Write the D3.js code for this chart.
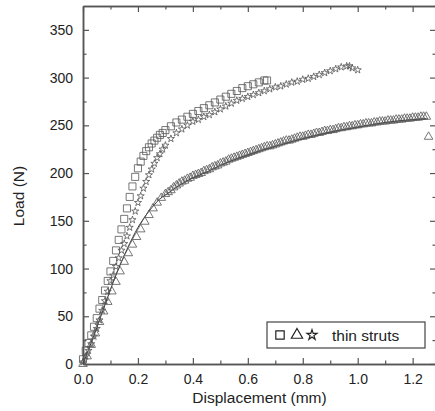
<!DOCTYPE html>
<html>
<head>
<meta charset="utf-8">
<script src="https://cdn.jsdelivr.net/npm/d3@7"></script>
<style>
  body { margin: 0; background: #fff; }
  svg { display: block; font-family: "Liberation Sans", Arial, sans-serif; }
  .tick text { font-size: 14px; fill: #222; }
  .axis-label { font-size: 15.5px; fill: #222; }
</style>
</head>
<body>
<svg id="chart"></svg>
<script>
// [displacement (mm), load (N)]
const squarePoints = [
  [0.00, 5], [0.01, 14], [0.02, 22], [0.03, 30], [0.04, 39], [0.05, 48], [0.06, 58], [0.07, 67],
  [0.08, 77], [0.09, 87], [0.10, 97], [0.11, 108], [0.12, 119], [0.13, 130], [0.14, 141], [0.15, 152],
  [0.16, 163], [0.17, 175], [0.18, 186], [0.19, 196], [0.20, 205], [0.21, 212], [0.22, 218], [0.23, 223],
  [0.24, 227], [0.25, 231], [0.26, 234], [0.27, 237], [0.28, 240], [0.29, 242], [0.30, 245], [0.32, 249],
  [0.34, 253], [0.36, 256], [0.38, 259], [0.40, 262], [0.42, 265], [0.44, 268], [0.46, 271], [0.48, 274],
  [0.50, 277], [0.52, 280], [0.54, 283], [0.56, 286], [0.58, 289], [0.60, 291], [0.62, 293], [0.64, 295],
  [0.66, 297], [0.67, 297]
];

const starPoints = [
  [0.00, 2], [0.01, 8], [0.02, 14], [0.03, 21], [0.04, 29], [0.05, 37], [0.06, 46], [0.07, 56],
  [0.08, 66], [0.09, 76], [0.10, 87], [0.11, 93], [0.12, 102], [0.13, 111], [0.14, 119], [0.15, 126],
  [0.16, 134], [0.17, 143], [0.18, 151], [0.19, 160], [0.20, 169], [0.21, 176], [0.22, 184], [0.23, 191],
  [0.24, 198], [0.25, 204], [0.26, 210], [0.27, 216], [0.28, 220], [0.29, 225], [0.30, 229], [0.32, 236],
  [0.34, 242], [0.36, 246], [0.38, 250], [0.40, 254], [0.42, 256], [0.44, 259], [0.46, 261], [0.48, 264],
  [0.50, 267], [0.52, 270], [0.54, 273], [0.56, 276], [0.58, 278], [0.60, 280], [0.62, 282], [0.64, 284],
  [0.66, 286], [0.68, 288], [0.70, 290], [0.72, 291], [0.74, 293], [0.76, 295], [0.78, 296], [0.80, 298],
  [0.82, 299], [0.84, 301], [0.86, 303], [0.88, 305], [0.90, 307], [0.92, 309], [0.94, 311], [0.96, 312],
  [0.97, 312], [0.98, 310], [1.00, 308]
];

const trianglePoints = [
  [0.000, 0], [0.015, 8], [0.030, 20], [0.045, 32], [0.060, 44], [0.075, 55], [0.090, 65], [0.105, 76],
  [0.120, 86], [0.135, 97], [0.150, 107], [0.165, 116], [0.180, 125], [0.195, 133], [0.210, 141], [0.225, 149],
  [0.240, 156], [0.255, 163], [0.270, 169], [0.285, 174],
  [0.30, 178], [0.31, 180], [0.32, 182], [0.33, 185], [0.34, 187], [0.35, 189], [0.36, 191], [0.37, 192],
  [0.38, 194], [0.39, 195], [0.40, 197], [0.41, 198], [0.42, 199], [0.43, 200], [0.44, 202], [0.45, 203],
  [0.46, 204], [0.47, 206], [0.48, 207], [0.49, 208], [0.50, 210], [0.51, 211], [0.52, 212], [0.53, 214],
  [0.54, 215], [0.55, 216], [0.56, 217], [0.57, 218], [0.58, 219], [0.59, 220], [0.60, 221], [0.61, 222],
  [0.62, 223], [0.63, 224], [0.64, 225], [0.65, 226], [0.66, 227], [0.67, 228], [0.68, 228], [0.69, 229],
  [0.70, 230], [0.71, 231], [0.72, 232], [0.73, 233], [0.74, 234], [0.75, 234], [0.76, 235], [0.77, 236],
  [0.78, 237], [0.79, 238], [0.80, 238], [0.81, 239], [0.82, 240], [0.83, 240], [0.84, 241], [0.85, 242],
  [0.86, 242], [0.87, 243], [0.88, 244], [0.89, 244], [0.90, 245], [0.91, 245], [0.92, 246], [0.93, 247],
  [0.94, 247], [0.95, 248], [0.96, 248], [0.97, 249], [0.98, 249], [0.99, 250], [1.00, 250], [1.01, 251],
  [1.02, 251], [1.03, 252], [1.04, 252], [1.05, 252], [1.06, 253], [1.07, 253], [1.08, 254], [1.09, 254],
  [1.10, 254], [1.11, 255], [1.12, 255], [1.13, 255], [1.14, 256], [1.15, 256], [1.16, 256], [1.17, 257],
  [1.18, 257], [1.19, 257], [1.20, 258], [1.21, 258], [1.22, 258], [1.23, 259], [1.24, 259], [1.25, 259],
  [1.258, 238]
];

// thin solid curve drawn with the triangle series
const triangleCurve = [
  [0.00, 0], [0.02, 15], [0.04, 30], [0.06, 46], [0.08, 62], [0.10, 78], [0.12, 93], [0.14, 107],
  [0.16, 120], [0.18, 132], [0.20, 143], [0.22, 152], [0.24, 160], [0.26, 167], [0.28, 173], [0.30, 177],
  [0.35, 187], [0.40, 195], [0.45, 201], [0.50, 208], [0.60, 219], [0.70, 228], [0.80, 236], [0.90, 243],
  [1.00, 248], [1.10, 253], [1.20, 256], [1.25, 257]
];

const xTicks = [0.0, 0.2, 0.4, 0.6, 0.8, 1.0, 1.2];
const xMinorTicks = [0.1, 0.3, 0.5, 0.7, 0.9, 1.1];
const yTicks = [0, 50, 100, 150, 200, 250, 300, 350];
const yMinorTicks = [25, 75, 125, 175, 225, 275, 325];
const legendLabel = 'thin struts';

const width = 435, height = 411;
const margin = { top: 6, right: -1, bottom: 47, left: 83 };
const innerW = width - margin.left - margin.right;
const innerH = height - margin.top - margin.bottom;
const axisColor = '#555';
const markColor = '#555';

const svg = d3.select('#chart')
  .attr('width', width)
  .attr('height', height);

const chart = svg.append('g')
  .attr('transform', `translate(${margin.left},${margin.top})`);

const xScale = d3.scaleLinear().domain([0, 1.285]).range([0, innerW]);
const yScale = d3.scaleLinear().domain([0, 375]).range([innerH, 0]);

// major + minor ticks on all four sides, pointing inward
function addAxis(axisFn, scale, ticks, minor, transform, fmt) {
  const g = chart.append('g').attr('transform', transform);
  g.call(axisFn(scale).tickValues(ticks).tickSize(-6).tickSizeOuter(0).tickPadding(10).tickFormat(fmt));
  g.append('g').call(axisFn(scale).tickValues(minor).tickSize(-3.5).tickSizeOuter(0).tickFormat(''));
  g.selectAll('.domain').attr('stroke', axisColor).attr('stroke-width', 1.5);
  g.selectAll('.tick line').attr('stroke', axisColor).attr('stroke-width', 1.2);
  return g;
}

const xFmt = d3.format('.1f');
const yFmt = d3.format('d');
addAxis(d3.axisBottom, xScale, xTicks, xMinorTicks, `translate(0,${innerH})`, xFmt);
addAxis(d3.axisTop, xScale, xTicks, xMinorTicks, 'translate(0,0)', '');
addAxis(d3.axisLeft, yScale, yTicks, yMinorTicks, 'translate(0,0)', yFmt);
addAxis(d3.axisRight, yScale, yTicks, yMinorTicks, `translate(${innerW},0)`, '');

// fitted curve
const line = d3.line()
  .x(d => xScale(d[0]))
  .y(d => yScale(d[1]))
  .curve(d3.curveMonotoneX);

chart.append('path')
  .datum(triangleCurve)
  .attr('d', line)
  .attr('fill', 'none')
  .attr('stroke', '#333')
  .attr('stroke-width', 1);

function drawSeries(points, symbolType, size) {
  const sym = d3.symbol().type(symbolType).size(size);
  chart.append('g')
    .selectAll('path')
    .data(points)
    .join('path')
    .attr('transform', d => `translate(${xScale(d[0])},${yScale(d[1])})`)
    .attr('d', sym)
    .attr('fill', 'none')
    .attr('stroke', markColor)
    .attr('stroke-width', 0.8);
}

drawSeries(trianglePoints, d3.symbolTriangle, 32);
drawSeries(starPoints, d3.symbolStar, 16);
drawSeries(squarePoints, d3.symbolSquare, 50);

// axis titles
svg.append('text')
  .attr('class', 'axis-label')
  .attr('x', margin.left + innerW / 2)
  .attr('y', 403)
  .attr('text-anchor', 'middle')
  .text('Displacement (mm)');

svg.append('text')
  .attr('class', 'axis-label')
  .attr('transform', 'translate(24,196) rotate(-90)')
  .attr('text-anchor', 'middle')
  .text('Load (N)');

// legend
const legend = svg.append('g').attr('transform', 'translate(267,322)');
legend.append('rect')
  .attr('width', 158)
  .attr('height', 26)
  .attr('fill', '#fff')
  .attr('stroke', '#444')
  .attr('stroke-width', 1.2);

const legendSymbols = [
  { type: d3.symbolSquare, size: 70, x: 13 },
  { type: d3.symbolTriangle, size: 55, x: 30 },
  { type: d3.symbolStar, size: 32, x: 45 }
];
legend.selectAll('path.sym')
  .data(legendSymbols)
  .join('path')
  .attr('class', 'sym')
  .attr('transform', d => `translate(${d.x},13)`)
  .attr('d', d => d3.symbol().type(d.type).size(d.size)())
  .attr('fill', 'none')
  .attr('stroke', '#222')
  .attr('stroke-width', 1.2);

legend.append('text')
  .attr('class', 'axis-label')
  .attr('x', 65)
  .attr('y', 18.5)
  .text(legendLabel);
</script>
</body>
</html>
